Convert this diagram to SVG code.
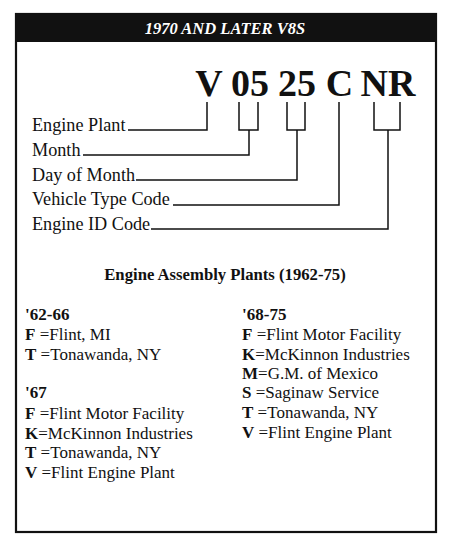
<svg xmlns="http://www.w3.org/2000/svg" width="450" height="549" viewBox="0 0 450 549">
<style>
.lbl{font-family:"Liberation Serif","Times New Roman",serif;font-size:18.2px;fill:#111}
.ent{font-family:"Liberation Serif","Times New Roman",serif;font-size:17px;fill:#111}
.b{font-weight:bold}
.code{font-family:"Liberation Serif","Times New Roman",serif;font-size:38px;font-weight:bold;fill:#111;text-anchor:middle}
.conn{fill:none;stroke:#111;stroke-width:1.5}
</style>
<rect x="0" y="0" width="450" height="549" fill="#fff"/>
<g id="frame">
<rect x="16" y="14" width="420" height="518" fill="#fff" stroke="#111" stroke-width="2.2"/>
</g>
<g id="header">
<rect x="16" y="14" width="420" height="28" fill="#111"/>
<text x="225" y="34" text-anchor="middle" font-family="'Liberation Serif','Times New Roman',serif" font-size="16.5" font-weight="bold" font-style="italic" fill="#fff">1970 AND LATER V8S</text>
</g>
<g id="code">
<text class="code" x="209" y="96">V</text>
<text class="code" x="250" y="96">05</text>
<text class="code" x="297" y="96">25</text>
<text class="code" x="339.5" y="96">C</text>
<text class="code" x="388" y="96">NR</text>
</g>
<g id="connectors">
<polyline class="conn" points="207,102 207,130 128,130"/>
<polyline class="conn" points="239,102 239,130 258,130 258,102"/>
<polyline class="conn" points="249,130 249,155 83,155"/>
<polyline class="conn" points="287,102 287,130 305,130 305,102"/>
<polyline class="conn" points="297,130 297,180 136,180"/>
<polyline class="conn" points="339,102 339,205 173,205"/>
<polyline class="conn" points="374,102 374,130 400,130 400,102"/>
<polyline class="conn" points="388,130 388,229 151,229"/>
</g>
<g id="label-engine-plant"><text class="lbl" x="32" y="131">Engine Plant</text></g>
<g id="label-month"><text class="lbl" x="32" y="156">Month</text></g>
<g id="label-day"><text class="lbl" x="32" y="181">Day of Month</text></g>
<g id="label-vehicle"><text class="lbl" x="32" y="205">Vehicle Type Code</text></g>
<g id="label-engine-id"><text class="lbl" x="32" y="230">Engine ID Code</text></g>
<g id="plants-title">
<text x="225" y="280" text-anchor="middle" font-family="'Liberation Serif','Times New Roman',serif" font-size="16.7" font-weight="bold" fill="#111">Engine Assembly Plants (1962-75)</text>
</g>
<g id="plants-62-66">
<text class="ent b" x="25" y="320">'62-66</text>
<text class="ent" x="25" y="340"><tspan class="b">F</tspan> =Flint, MI</text>
<text class="ent" x="25" y="360"><tspan class="b">T</tspan> =Tonawanda, NY</text>
</g>
<g id="plants-67">
<text class="ent b" x="25" y="398">'67</text>
<text class="ent" x="25" y="419"><tspan class="b">F</tspan> =Flint Motor Facility</text>
<text class="ent" x="25" y="439"><tspan class="b">K</tspan>=McKinnon Industries</text>
<text class="ent" x="25" y="458"><tspan class="b">T</tspan> =Tonawanda, NY</text>
<text class="ent" x="25" y="478"><tspan class="b">V</tspan> =Flint Engine Plant</text>
</g>
<g id="plants-68-75">
<text class="ent b" x="242" y="320">'68-75</text>
<text class="ent" x="242" y="340"><tspan class="b">F</tspan> =Flint Motor Facility</text>
<text class="ent" x="242" y="360"><tspan class="b">K</tspan>=McKinnon Industries</text>
<text class="ent" x="242" y="379"><tspan class="b">M</tspan>=G.M. of Mexico</text>
<text class="ent" x="242" y="398"><tspan class="b">S</tspan> =Saginaw Service</text>
<text class="ent" x="242" y="418"><tspan class="b">T</tspan> =Tonawanda, NY</text>
<text class="ent" x="242" y="438"><tspan class="b">V</tspan> =Flint Engine Plant</text>
</g>
</svg>
